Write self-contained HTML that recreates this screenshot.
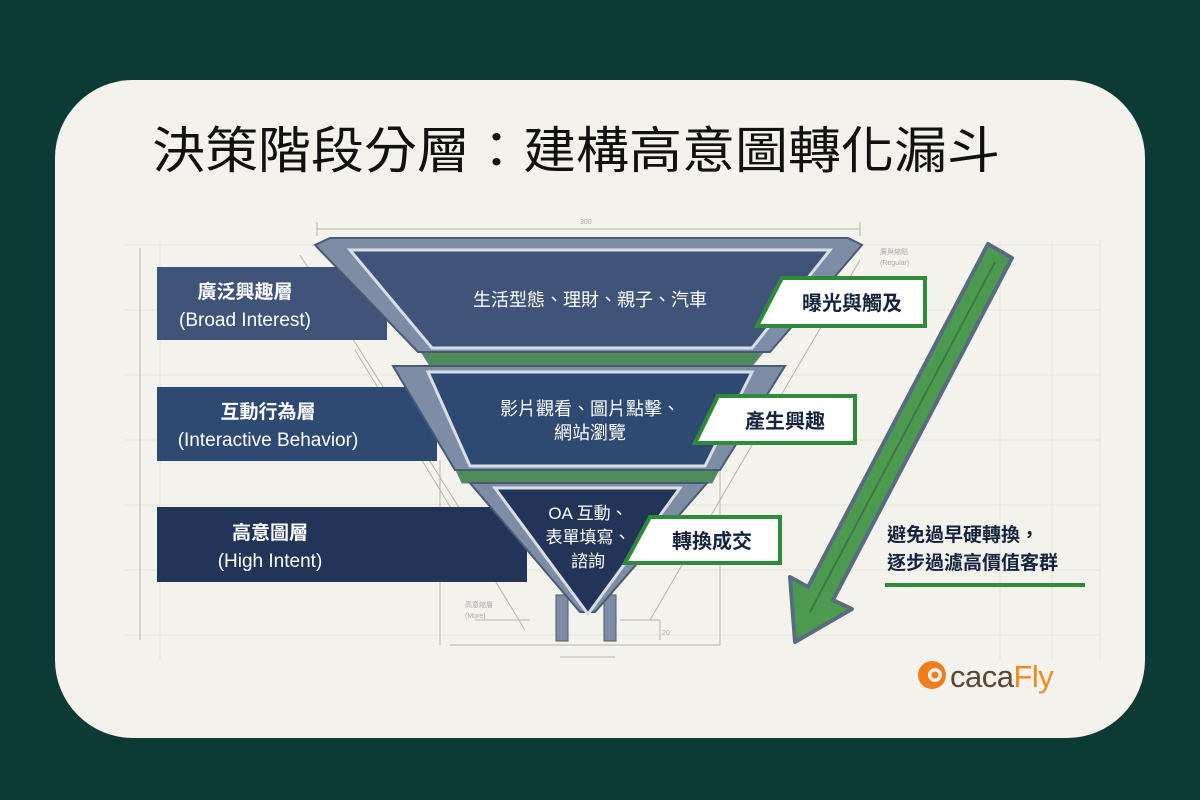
<!DOCTYPE html>
<html><head><meta charset="utf-8"><style>
html,body{margin:0;padding:0;background:#0c3b36;width:1200px;height:800px;overflow:hidden}
svg{display:block}
text{font-family:"Liberation Sans","Noto Sans CJK TC",sans-serif}
</style></head><body>
<svg width="1200" height="800" viewBox="0 0 1200 800" xmlns="http://www.w3.org/2000/svg">
<rect x="0" y="0" width="1200" height="800" fill="#0c3b36"/>
<rect x="55" y="80" width="1090" height="658" rx="78" fill="#f3f2ec"/>
<!-- grid -->
<g stroke="#e6e5de" stroke-width="1">
<line x1="125" y1="245" x2="1100" y2="245"/><line x1="125" y1="310" x2="1100" y2="310"/>
<line x1="125" y1="375" x2="1100" y2="375"/><line x1="125" y1="440" x2="1100" y2="440"/>
<line x1="125" y1="505" x2="1100" y2="505"/><line x1="125" y1="570" x2="1100" y2="570"/>
<line x1="125" y1="635" x2="1100" y2="635"/>
<line x1="160" y1="240" x2="160" y2="660"/><line x1="1000" y1="240" x2="1000" y2="660"/>
<line x1="1052" y1="240" x2="1052" y2="660"/><line x1="1100" y1="240" x2="1100" y2="660"/>
</g>
<text x="152" y="168" font-size="50" fill="#111" textLength="848" lengthAdjust="spacingAndGlyphs">決策階段分層：建構高意圖轉化漏斗</text>
<!-- dimension lines -->
<g stroke="#b8b4a8" stroke-width="1" fill="none">
<line x1="317" y1="229" x2="860" y2="229"/><line x1="317" y1="222" x2="317" y2="236"/><line x1="860" y1="222" x2="860" y2="236"/>
<line x1="140" y1="248" x2="140" y2="640"/>
<line x1="450" y1="645" x2="720" y2="645"/>
<line x1="560" y1="657" x2="615" y2="657"/>
<line x1="440" y1="460" x2="440" y2="645"/><line x1="720" y1="460" x2="720" y2="645"/>
<line x1="650" y1="620" x2="860" y2="260"/>
<line x1="880" y1="450" x2="1010" y2="265"/>
<line x1="300" y1="255" x2="470" y2="525"/>
<line x1="355" y1="350" x2="525" y2="630"/>
<line x1="475" y1="620" x2="530" y2="620"/>
<line x1="620" y1="620" x2="660" y2="620"/><line x1="660" y1="620" x2="660" y2="640"/>
</g>
<text x="580" y="224" font-size="7" fill="#aaa">300</text>
<text x="880" y="254" font-size="7" fill="#aaa">廣與縮點</text>
<text x="880" y="265" font-size="7" fill="#aaa">(Regular)</text>
<text x="465" y="607" font-size="7" fill="#aaa">高意縮層</text>
<text x="465" y="618" font-size="7" fill="#aaa">(More)</text>
<text x="662" y="635" font-size="7" fill="#aaa">20</text>
<!-- left bars -->
<rect x="157" y="267" width="230" height="73" fill="#3f5478"/>
<rect x="157" y="387" width="280" height="74" fill="#2e4a72"/>
<rect x="157" y="507" width="370" height="75" fill="#223457"/>
<g fill="#fff" text-anchor="middle">
<text x="245" y="298" font-size="19" font-weight="bold">廣泛興趣層</text>
<text x="245" y="326" font-size="19">(Broad Interest)</text>
<text x="268" y="418" font-size="19" font-weight="bold">互動行為層</text>
<text x="268" y="446" font-size="19">(Interactive Behavior)</text>
<text x="270" y="539" font-size="19" font-weight="bold">高意圖層</text>
<text x="270" y="567" font-size="19">(High Intent)</text>
</g>
<!-- green strips -->
<polygon points="420,350 765,350 752,366 430,366" fill="#4f8a5a" stroke="#6a7f95"/>
<polygon points="455,468 720,468 712,483 462,483" fill="#4f8a5a" stroke="#6a7f95"/>
<!-- layer 1 -->
<polygon points="315,245 330,238 848,238 862,245 770,352 418,352" fill="#7d8da5" stroke="#4a5a72" stroke-width="2"/>
<polygon points="350,250 830,250 752,348 432,348" fill="#3f5478" stroke="#d9dee6" stroke-width="3"/>
<text x="590" y="306" font-size="18" fill="#fff" text-anchor="middle">生活型態、理財、親子、汽車</text>
<!-- layer 2 -->
<polygon points="393,366 785,366 720,470 455,470" fill="#7d8da5" stroke="#4a5a72" stroke-width="2"/>
<polygon points="428,372 752,372 705,466 470,466" fill="#2e4a72" stroke="#d9dee6" stroke-width="3"/>
<text x="590" y="415" font-size="18" fill="#fff" text-anchor="middle">影片觀看、圖片點擊、</text>
<text x="590" y="439" font-size="18" fill="#fff" text-anchor="middle">網站瀏覽</text>
<!-- layer 3 -->
<rect x="556" y="595" width="12" height="46" fill="#7d8da5" stroke="#4a5a72"/>
<rect x="604" y="595" width="12" height="46" fill="#7d8da5" stroke="#4a5a72"/>
<polygon points="470,483 707,483 595,612 580,612" fill="#7d8da5" stroke="#4a5a72" stroke-width="2"/>
<polygon points="495,488 680,488 588,614" fill="#223457" stroke="#d9dee6" stroke-width="3"/>
<text x="588" y="519" font-size="17" fill="#fff" text-anchor="middle">OA 互動、</text>
<text x="588" y="543" font-size="17" fill="#fff" text-anchor="middle">表單填寫、</text>
<text x="588" y="567" font-size="17" fill="#fff" text-anchor="middle">諮詢</text>
<!-- green labels -->
<polygon points="782,278 925,278 925,326 757,326" fill="#fff" stroke="#2e8b3a" stroke-width="4"/>
<text x="852" y="310" font-size="20" font-weight="bold" fill="#15233e" text-anchor="middle">曝光與觸及</text>
<polygon points="718,396 855,396 855,443 695,443" fill="#fff" stroke="#2e8b3a" stroke-width="4"/>
<text x="785" y="428" font-size="20" font-weight="bold" fill="#15233e" text-anchor="middle">產生興趣</text>
<polygon points="650,517 780,517 780,563 625,563" fill="#fff" stroke="#2e8b3a" stroke-width="4"/>
<text x="712" y="548" font-size="20" font-weight="bold" fill="#15233e" text-anchor="middle">轉換成交</text>
<!-- big arrow -->
<polygon points="988,244 1012,258 833,600 852,609 795,642 790,577 808,587" fill="#4c9a4f" stroke="#5a6b80" stroke-width="4" stroke-linejoin="round"/>
<line x1="995" y1="262" x2="810" y2="612" stroke="#3a7a3e" stroke-width="2"/>
<g font-size="19" font-weight="bold" fill="#15233e">
<text x="887" y="541">避免過早硬轉換，</text>
<text x="887" y="569">逐步過濾高價值客群</text>
</g>
<rect x="885" y="583" width="200" height="4" fill="#2e8b3a"/>
<!-- logo -->
<circle cx="932" cy="675" r="14" fill="#f07d1a"/>
<circle cx="935" cy="675" r="7" fill="#f3f2ec"/>
<circle cx="935" cy="675" r="3.5" fill="#f07d1a"/>
<text x="950" y="687" font-size="31" fill="#5a4632" letter-spacing="-0.5">caca<tspan fill="#f08a1a">Fly</tspan></text>
</svg>
</body></html>
